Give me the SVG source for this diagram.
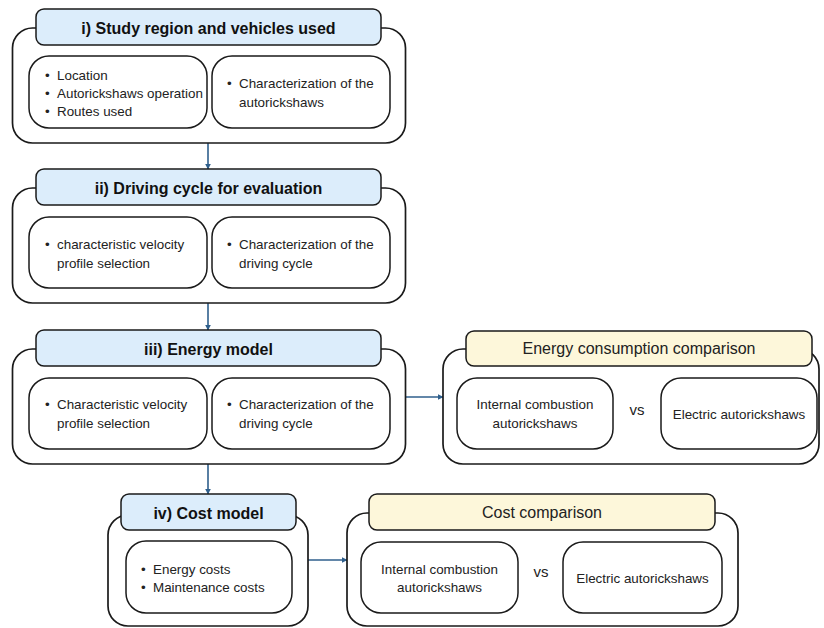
<svg xmlns="http://www.w3.org/2000/svg" width="824" height="628" viewBox="0 0 824 628">
<defs>
<style>
.outer{fill:#fff;stroke:#1a1a1a;stroke-width:1.7}
.inner{fill:#fff;stroke:#1a1a1a;stroke-width:1.5}
.hb{fill:#dcedfb;stroke:#1a1a1a;stroke-width:1.5}
.hy{fill:#fdf7da;stroke:#1a1a1a;stroke-width:1.5}
.ht{font-family:"Liberation Sans",Arial,sans-serif;font-size:16px;font-weight:bold;fill:#111;text-anchor:middle}
.hn{font-family:"Liberation Sans",Arial,sans-serif;font-size:16px;fill:#222;text-anchor:middle}
.t{font-family:"Liberation Sans",Arial,sans-serif;font-size:13.4px;fill:#222}
.c{font-family:"Liberation Sans",Arial,sans-serif;font-size:13.4px;fill:#222;text-anchor:middle}
.vs{font-family:"Liberation Sans",Arial,sans-serif;font-size:15px;fill:#222;text-anchor:middle}
.con{stroke:#2f5f8c;stroke-width:1.6;fill:none}
</style>
<marker id="ah" viewBox="0 0 10 10" refX="9" refY="5" markerWidth="6" markerHeight="6" orient="auto" markerUnits="userSpaceOnUse">
<path d="M0,0 L10,5 L0,10 z" fill="#2f5f8c"/>
</marker>
</defs>

<g id="connectors">
<line class="con" x1="208" y1="143" x2="208" y2="169" marker-end="url(#ah)"/>
<line class="con" x1="208" y1="303" x2="208" y2="330" marker-end="url(#ah)"/>
<line class="con" x1="208" y1="464" x2="208" y2="494" marker-end="url(#ah)"/>
<line class="con" x1="405" y1="397" x2="443" y2="397" marker-end="url(#ah)"/>
<line class="con" x1="308" y1="560" x2="347" y2="560" marker-end="url(#ah)"/>
</g>

<g id="node-i">
<rect class="outer" x="12.5" y="28" width="393" height="115" rx="20"/>
<rect class="hb" x="36" y="9" width="345" height="36" rx="8"/>
<text class="ht" x="208.5" y="33.5">i) Study region and vehicles used</text>
<rect class="inner" x="29" y="56" width="178" height="72" rx="20"/>
<text class="t"><tspan x="45" y="80">•</tspan><tspan x="57" y="80">Location</tspan><tspan x="45" y="98">•</tspan><tspan x="57" y="98">Autorickshaws operation</tspan><tspan x="45" y="116">•</tspan><tspan x="57" y="116">Routes used</tspan></text>
<rect class="inner" x="212" y="56" width="178" height="72" rx="20"/>
<text class="t"><tspan x="227" y="88">•</tspan><tspan x="239" y="88">Characterization of the</tspan><tspan x="239" y="106.5">autorickshaws</tspan></text>
</g>

<g id="node-ii">
<rect class="outer" x="12.5" y="188" width="393" height="115" rx="20"/>
<rect class="hb" x="36" y="169" width="345" height="36" rx="8"/>
<text class="ht" x="208.5" y="193.5">ii) Driving cycle for evaluation</text>
<rect class="inner" x="29" y="217" width="178" height="71" rx="20"/>
<text class="t"><tspan x="45" y="249">•</tspan><tspan x="57" y="249">characteristic velocity</tspan><tspan x="57" y="267.5">profile selection</tspan></text>
<rect class="inner" x="212" y="217" width="178" height="71" rx="20"/>
<text class="t"><tspan x="227" y="249">•</tspan><tspan x="239" y="249">Characterization of the</tspan><tspan x="239" y="267.5">driving cycle</tspan></text>
</g>

<g id="node-iii">
<rect class="outer" x="12.5" y="349" width="393" height="115" rx="20"/>
<rect class="hb" x="36" y="330" width="345" height="36" rx="8"/>
<text class="ht" x="208.5" y="354.5">iii) Energy model</text>
<rect class="inner" x="29" y="378" width="178" height="71" rx="20"/>
<text class="t"><tspan x="45" y="409">•</tspan><tspan x="57" y="409">Characteristic velocity</tspan><tspan x="57" y="427.5">profile selection</tspan></text>
<rect class="inner" x="212" y="378" width="178" height="71" rx="20"/>
<text class="t"><tspan x="227" y="409">•</tspan><tspan x="239" y="409">Characterization of the</tspan><tspan x="239" y="427.5">driving cycle</tspan></text>
</g>

<g id="node-energy-comparison">
<rect class="outer" x="443" y="349" width="376" height="115" rx="20"/>
<rect class="hy" x="466" y="331" width="346" height="35" rx="8"/>
<text class="hn" x="639" y="354">Energy consumption comparison</text>
<rect class="inner" x="457" y="378" width="156" height="71" rx="20"/>
<text class="c"><tspan x="535" y="409">Internal combustion</tspan><tspan x="535" y="427.5">autorickshaws</tspan></text>
<text class="vs" x="637" y="415">vs</text>
<rect class="inner" x="661" y="378" width="156" height="71" rx="20"/>
<text class="c" x="739" y="418.5">Electric autorickshaws</text>
</g>

<g id="node-iv">
<rect class="outer" x="108" y="515" width="200" height="111" rx="20"/>
<rect class="hb" x="121" y="494" width="175" height="36" rx="8"/>
<text class="ht" x="208.5" y="518.5">iv) Cost model</text>
<rect class="inner" x="126" y="541" width="166" height="72" rx="20"/>
<text class="t"><tspan x="141" y="573.5">•</tspan><tspan x="153" y="573.5">Energy costs</tspan><tspan x="141" y="592">•</tspan><tspan x="153" y="592">Maintenance costs</tspan></text>
</g>

<g id="node-cost-comparison">
<rect class="outer" x="347" y="513" width="391" height="113" rx="20"/>
<rect class="hy" x="369" y="494" width="346" height="36" rx="8"/>
<text class="hn" x="542" y="517.5">Cost comparison</text>
<rect class="inner" x="361" y="542" width="157" height="71" rx="20"/>
<text class="c"><tspan x="439.5" y="573.5">Internal combustion</tspan><tspan x="439.5" y="592">autorickshaws</tspan></text>
<text class="vs" x="541" y="576.5">vs</text>
<rect class="inner" x="563" y="542" width="159" height="71" rx="20"/>
<text class="c" x="642.5" y="583">Electric autorickshaws</text>
</g>
</svg>
